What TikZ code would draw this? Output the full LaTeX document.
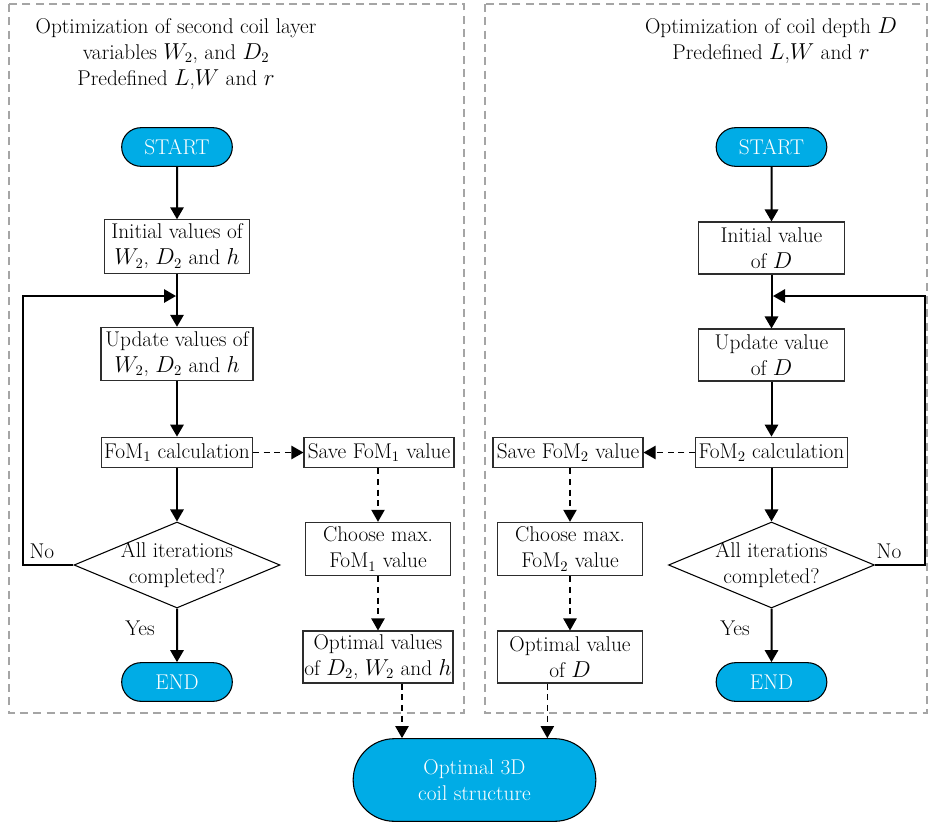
\documentclass[tikz,border=0pt]{standalone}
\usepackage{amsmath, amssymb}
\usepackage[dvipsnames]{xcolor}
\usepackage{tikz}
\usetikzlibrary{shapes.geometric, shapes.misc, arrows.meta}

\definecolor{termblue}{RGB}{0,172,230}
\definecolor{panelgray}{RGB}{165,165,165}
\definecolor{boxgray}{RGB}{45,45,45}

\begin{document}
\begin{tikzpicture}[x=0.75pt,y=0.75pt,yscale=-1,xscale=1,
  font=\fontsize{16}{19.5}\selectfont,
  term/.style={shape=rounded rectangle, draw=black, line width=0.8pt, fill=termblue, text=white, minimum width=83pt, minimum height=29pt, inner sep=0pt},
  procbox/.style={draw=boxgray, line width=0.8pt, align=center, inner sep=1pt, minimum width=109pt, minimum height=40pt},
  calcbox/.style={draw=boxgray, line width=0.8pt, inner sep=1pt, minimum width=113pt, minimum height=23pt},
  decide/.style={shape=diamond, draw=black, line width=0.8pt, minimum width=154.5pt, minimum height=64.5pt, inner sep=0pt},
  flow/.style={line width=1.5pt, -{Triangle[length=9pt,width=10pt]}},
  dflow/.style={line width=0.9pt, dash pattern=on 4.5pt off 3.5pt, -{Triangle[length=9pt,width=10pt]}},
  panel/.style={draw=panelgray, line width=0.9pt, dash pattern=on 6pt off 4pt},
]
\useasboundingbox (0,0) rectangle (929,825);

%Dashed Panels
\draw[panel] (9,4) rectangle (464,713);
\draw[panel] (485,4) rectangle (927,713);

% Text Node
\node (ttl1) [align=center] at (176,54) {Optimization of second coil layer\\ variables $W_2$, and $D_2$\\ Predefined $L$,$W$ and $r$};
% Text Node
\node (ttl2) [align=center] at (771,41) {Optimization of coil depth $D$\\ Predefined $L$,$W$ and $r$};

%Left flow
\node[term] (st1) at (177,147) {START};
\node[procbox] (in1) at (177,246.5) {Initial values of\\ $W_2$, $D_2$ and $h$};
\node[procbox, minimum width=114pt] (up1) at (177,354) {Update values of\\ $W_2$, $D_2$ and $h$};
\node[calcbox] (fm1) at (177,452.5) {FoM$_1$ calculation};
\node[decide, label={[align=center]center:All iterations\\ completed?}] (dc1) at (177,565) {};
\node[term] (en1) at (177,682) {END};
\node[calcbox, minimum width=112.5pt] (sv1) at (379,452.5) {Save FoM$_1$ value};
\node[procbox] (ch1) at (378,549) {Choose max.\\ FoM$_1$ value};
\node[procbox, minimum height=39pt] (op1) at (378,657) {Optimal values\\ of $D_2$, $W_2$ and $h$};

%Right flow
\node[term] (st2) at (771.5,147) {START};
\node[procbox, minimum height=39pt] (in2) at (771.5,248) {Initial value\\ of $D$};
\node[procbox, minimum height=39pt] (up2) at (771.5,355) {Update value\\ of $D$};
\node[calcbox, minimum width=114pt] (fm2) at (771.5,452.5) {FoM$_2$ calculation};
\node[decide, label={[align=center]center:All iterations\\ completed?}] (dc2) at (771.5,565) {};
\node[term] (en2) at (771.5,682) {END};
\node[calcbox, minimum width=112.5pt] (sv2) at (568,452.5) {Save FoM$_2$ value};
\node[procbox] (ch2) at (570,549) {Choose max.\\ FoM$_2$ value};
\node[procbox, minimum height=39pt] (op2) at (570,657) {Optimal value\\ of $D$};

%Final
\node[term, minimum width=182pt, minimum height=62pt, align=center] (fin) at (474.5,780) {Optimal 3D\\ coil structure};

% Text Node
\node (no1) at (42,551) {No};
\node (no2) at (889,551) {No};
\node (yes1) at (140,628) {Yes};
\node (yes2) at (735,628) {Yes};

%Loop corners
\coordinate (cn1) at (23,296);
\coordinate (jn1) at (176,296);
\coordinate (cn2) at (925,296);
\coordinate (jn2) at (773,296);

%Straight Lines
\draw[flow] (st1) -- (in1);
\draw[flow] (in1) -- (up1);
\draw[flow] (up1) -- (fm1);
\draw[flow] (fm1) -- (dc1);
\draw[flow] (dc1) -- (en1);
\draw[flow] (dc1.west) -| (cn1) -- (jn1);
\draw[flow] (st2) -- (in2);
\draw[flow] (in2) -- (up2);
\draw[flow] (up2) -- (fm2);
\draw[flow] (fm2) -- (dc2);
\draw[flow] (dc2) -- (en2);
\draw[flow] (dc2.east) -| (cn2) -- (jn2);

%Dashed Lines
\draw[dflow] (fm1) -- (sv1);
\draw[dflow] (sv1.south -| ch1) -- (ch1);
\draw[dflow] (ch1) -- (op1);
\draw[dflow] (fm2) -- (sv2);
\draw[dflow] (sv2.south -| ch2) -- (ch2);
\draw[dflow] (ch2) -- (op2);
\draw[dflow] ([xshift=18pt]op1.south) -- ([xshift=18pt]op1.south |- fin.north);
\draw[dflow] ([xshift=-17pt]op2.south) -- ([xshift=-17pt]op2.south |- fin.north);

\end{tikzpicture}
\end{document}
